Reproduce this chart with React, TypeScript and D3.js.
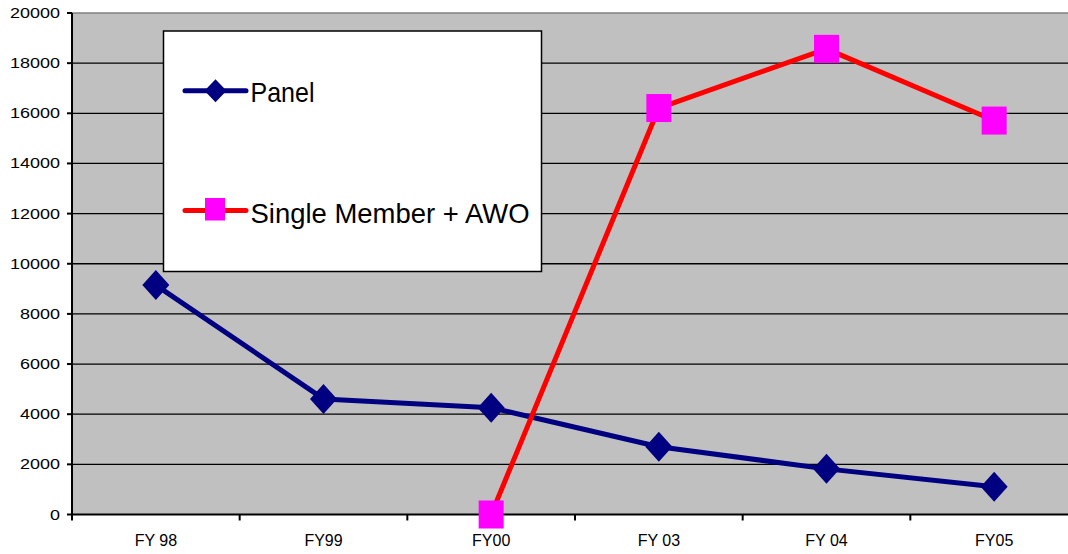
import React from "react";
import * as d3 from "d3";

const categories = ["FY 98", "FY99", "FY00", "FY 03", "FY 04", "FY05"];
const panelValues: (number | null)[] = [9150, 4610, 4260, 2700, 1820, 1110];
const singleValues: (number | null)[] = [null, null, 0, 16210, 18570, 15710];
const yTicks = [0, 2000, 4000, 6000, 8000, 10000, 12000, 14000, 16000, 18000, 20000];
const seriesNames = ["Panel", "Single Member + AWO"];

const W = 1068;
const H = 554;
const left = 72;
const right = 1078;
const top = 13;
const bottom = 514.5;

export default function App() {
  const x = d3.scaleBand<string>().domain(categories).range([left, right]);
  const y = d3.scaleLinear().domain([0, 20000]).range([bottom, top]);
  const cx = (c: string) => (x(c) as number) + x.bandwidth() / 2;

  const line = d3
    .line<[string, number | null]>()
    .defined((d) => d[1] !== null)
    .x((d) => cx(d[0]))
    .y((d) => y(d[1] as number));

  const panelPts = categories.map((c, i) => [c, panelValues[i]] as [string, number | null]);
  const singlePts = categories.map((c, i) => [c, singleValues[i]] as [string, number | null]);

  const diamond = (px: number, py: number, w: number, h: number) =>
    `M${px},${py - h / 2}L${px + w / 2},${py}L${px},${py + h / 2}L${px - w / 2},${py}Z`;

  const font = "'Liberation Sans', Arial, sans-serif";

  return (
    <div style={{ position: "absolute", left: 0, top: 0 }}>
      <svg width={W} height={H} style={{ display: "block" }}>
        <rect x={0} y={0} width={W} height={H} fill="#fff" />
        <rect x={left} y={top} width={right - left} height={bottom - top} fill="#C0C0C0" />
        {yTicks.slice(1, -1).map((t) => (
          <line key={t} x1={left} x2={right} y1={y(t)} y2={y(t)} stroke="#000" strokeWidth={1.3} />
        ))}
        <line x1={left} x2={right} y1={top} y2={top} stroke="#808080" strokeWidth={1.5} />
        {/* y axis */}
        <line x1={left} x2={left} y1={top} y2={bottom} stroke="#000" strokeWidth={2} />
        {yTicks.map((t) => (
          <g key={t}>
            <line x1={left - 5} x2={left} y1={y(t)} y2={y(t)} stroke="#000" strokeWidth={2} />
            <text
              x={60}
              y={y(t) + 5}
              textAnchor="end"
              fontFamily={font}
              fontSize={14}
              textLength={String(t).length * 10}
              lengthAdjust="spacingAndGlyphs"
              fill="#000"
            >
              {t}
            </text>
          </g>
        ))}
        {/* x axis */}
        <line x1={left} x2={right} y1={bottom} y2={bottom} stroke="#000" strokeWidth={2} />
        {categories.map((c) => (
          <g key={c}>
            <line x1={x(c) as number} x2={x(c) as number} y1={bottom} y2={bottom + 6} stroke="#000" strokeWidth={2} />
            <text x={cx(c)} y={546} textAnchor="middle" fontFamily={font} fontSize={16} fill="#000">
              {c}
            </text>
          </g>
        ))}
        {/* legend */}
        <rect x={163.5} y={31} width={378} height={240.5} fill="#fff" stroke="#000" strokeWidth={1.5} />
        <line x1={185} x2={246} y1={90.7} y2={90.7} stroke="#000080" strokeWidth={5} strokeLinecap="round" />
        <path d={diamond(215.5, 90.7, 22, 23)} fill="#000080" />
        <text x={250.5} y={101.5} fontFamily={font} fontSize={28} fill="#000" textLength={64} lengthAdjust="spacingAndGlyphs">
          {seriesNames[0]}
        </text>
        <line x1={185} x2={246} y1={210.5} y2={210.5} stroke="#FF0000" strokeWidth={5} strokeLinecap="round" />
        <rect x={205} y={198} width={20} height={22.5} fill="#FF00FF" />
        <text x={250.5} y={223} fontFamily={font} fontSize={28} fill="#000" textLength={279} lengthAdjust="spacingAndGlyphs">
          {seriesNames[1]}
        </text>
        {/* series */}
        <path d={line(panelPts) as string} fill="none" stroke="#000080" strokeWidth={5} strokeLinejoin="round" />
        <path d={line(singlePts) as string} fill="none" stroke="#FF0000" strokeWidth={5} strokeLinejoin="round" />
        {panelPts.map((d) =>
          d[1] === null ? null : <path key={d[0]} d={diamond(cx(d[0]), y(d[1]), 27, 30)} fill="#000080" />
        )}
        {singlePts.map((d) =>
          d[1] === null ? null : (
            <rect key={d[0]} x={cx(d[0]) - 12.5} y={y(d[1]) - 14} width={25} height={28} fill="#FF00FF" />
          )
        )}
      </svg>
    </div>
  );
}
